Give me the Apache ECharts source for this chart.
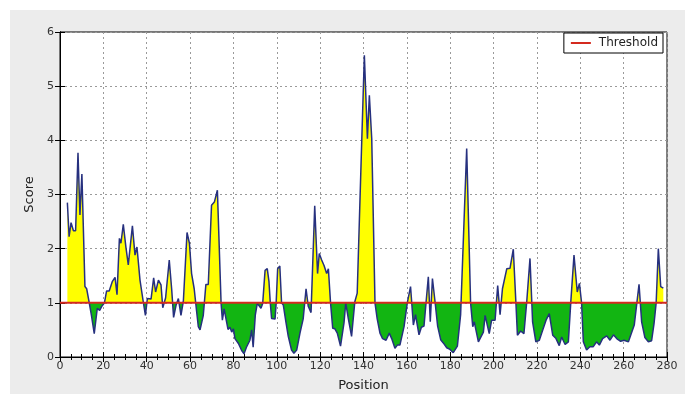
<!DOCTYPE html>
<html><head><meta charset="utf-8">
<script src="https://cdn.jsdelivr.net/npm/echarts@6/dist/echarts.min.js"></script>
<style>
html,body{margin:0;padding:0;background:#ffffff;}
#c{position:absolute;left:10px;top:10px;width:675px;height:384px;}
</style></head>
<body><div id="c"></div>
<script>
const positions = [3.4,4.2,5.1,6.2,7.2,8.3,9.2,10.1,11.5,12.3,13.5,14.5,15.8,16.4,17.2,18.3,19.2,20.5,21.5,22.7,24.1,25.4,26.3,27.4,28.1,29.2,30.4,31.5,33.4,34.6,35.5,36.9,38.4,39.4,40.3,42.0,43.2,44.1,45.4,46.6,47.4,48.7,50.4,51.5,52.4,53.5,54.6,55.8,56.9,58.6,59.7,60.7,61.9,63.0,63.8,64.6,66.1,67.3,68.4,69.9,71.2,72.6,74.3,74.9,75.7,76.6,77.5,78.4,79.2,80,80.7,82.3,83.8,84.9,86,87.6,88.4,89.1,90.1,91,91.9,92.7,93.5,94.6,95.6,96.4,97.0,97.6,99.2,99.7,100.4,101.4,102.2,103,104.2,105.3,106.8,107.9,109.2,110.7,112.2,113.5,114.5,115.8,117.5,118.8,119.6,120.7,121.8,123,123.8,124.8,125.8,126.8,127.9,129.4,131,131.8,133,134.5,135.2,136,137.1,137.6,139.2,140.4,141.8,142.7,143.8,145.3,146.3,147.6,148.8,150.4,151.9,153,154.5,155.6,156.8,158.7,160.2,161.7,163,164,165.6,166.7,167.9,169.9,170.8,171.8,173,174.2,175.6,176.8,178.4,179.9,181.4,183.3,184.8,187.6,189.4,190.4,191.1,193,195.3,196.1,197.1,198,199.1,200.7,201.9,203,204.1,206.1,207.6,209.1,210.3,211,212.5,214,215.3,216.8,218,219.5,221.1,222.6,224.2,225.7,227.3,228.8,230.3,231.4,233,234.5,235.6,237.1,238.6,239.6,240.6,241.4,242.9,244.4,246,247.5,248.8,250.3,252.2,253.7,255.3,256.8,258.6,260.2,262.2,264.9,267.1,268.3,269.8,271.4,272.9,274,275,276,277.1,278.3];
const scores = [2.85,2.22,2.48,2.33,2.33,3.77,2.62,3.38,1.30,1.26,1.0,0.77,0.43,0.43,0.9,0.86,0.93,1.0,1.22,1.22,1.39,1.47,1.15,2.19,2.1,2.45,2.03,1.7,2.42,1.88,2.03,1.42,1.02,0.77,1.08,1.07,1.46,1.2,1.42,1.33,0.91,1.09,1.79,1.26,0.73,0.95,1.08,0.77,1.03,2.30,2.1,1.54,1.26,0.85,0.56,0.5,0.77,1.34,1.34,2.8,2.86,3.08,1.0,0.68,0.89,0.86,0.51,0.55,0.46,0.52,0.34,0.25,0.12,0.06,0.18,0.31,0.5,0.18,0.78,0.99,0.99,0.9,0.99,1.6,1.63,1.39,1.0,0.71,0.70,0.99,1.63,1.68,1.0,0.96,0.65,0.38,0.13,0.07,0.13,0.44,0.71,1.26,0.94,0.82,2.79,1.54,1.91,1.79,1.69,1.54,1.63,1.0,0.53,0.52,0.44,0.2,0.63,1.0,0.71,0.38,0.38,1.02,1.18,1.2,4.0,5.57,4.03,4.83,4.03,1.0,0.71,0.44,0.34,0.31,0.44,0.34,0.16,0.22,0.22,0.56,1.0,1.30,0.59,0.78,0.41,0.55,0.57,1.48,0.65,1.45,1.02,0.57,0.32,0.26,0.17,0.14,0.08,0.2,0.78,3.85,1.0,0.56,0.65,0.28,0.46,0.77,0.59,0.43,0.68,0.68,1.32,0.78,1.26,1.63,1.64,1.99,1.0,0.40,0.48,0.43,1.02,1.82,0.65,0.28,0.31,0.49,0.68,0.80,0.40,0.34,0.21,0.37,0.23,0.28,1.0,1.88,1.2,1.36,1.0,0.28,0.13,0.19,0.19,0.28,0.22,0.34,0.39,0.31,0.41,0.34,0.29,0.31,0.28,0.59,1.34,0.65,0.36,0.28,0.30,0.61,1.0,2.0,1.30,1.27];
const thresholdValue = 1;
const xMin = 0, xMax = 280, xStep = 20;
const yMin = 0, yMax = 6, yStep = 1;

const pts = positions.map((p, i) => [p, scores[i]]);
const font = 'DejaVu Sans';
const chart = echarts.init(document.getElementById('c'));
const gridDotted = {show: true, lineStyle: {color: '#9a9a9a', width: 1, type: [2, 3]}};
chart.setOption({
  backgroundColor: '#ececec',
  animation: false,
  grid: {left: 50, right: 18, top: 22, bottom: 37, outerBoundsMode: 'none', containLabel: false,
         show: true, backgroundColor: '#ffffff', borderColor: '#000', borderWidth: 1},
  legend: {
    data: [{name: 'Threshold', icon: 'rect'}],
    right: 22, top: 23,
    itemWidth: 20, itemHeight: 2, itemGap: 10,
    padding: [4, 5, 4, 7],
    borderColor: '#000', borderWidth: 1, borderRadius: 0,
    backgroundColor: '#fff',
    textStyle: {fontFamily: font, fontSize: 12, color: '#222', padding: [0, 0, 0, 3]}
  },
  xAxis: [{
    type: 'value', min: xMin, max: xMax, interval: xStep,
    name: 'Position', nameLocation: 'middle', nameGap: 22,
    nameTextStyle: {fontFamily: font, fontSize: 13, color: '#222'},
    axisLine: {show: true, onZero: false, lineStyle: {color: '#000'}},
    axisTick: {show: true, inside: true, length: 5, lineStyle: {color: '#000'}},
    minorTick: {show: true, splitNumber: 4, length: 3, lineStyle: {color: '#000'}},
    axisLabel: {fontFamily: font, fontSize: 11, color: '#333', margin: 4},
    splitLine: gridDotted
  }, {
    type: 'value', min: xMin, max: xMax, interval: xStep, position: 'top',
    axisLine: {show: true, lineStyle: {color: '#000'}},
    axisTick: {show: true, inside: true, length: 5, lineStyle: {color: '#000'}},
    minorTick: {show: true, splitNumber: 4, length: 3, lineStyle: {color: '#000'}},
    axisLabel: {show: false}, splitLine: {show: false}
  }],
  yAxis: [{
    type: 'value', min: yMin, max: yMax, interval: yStep,
    name: 'Score', nameLocation: 'middle', nameGap: 20, nameRotate: 90,
    nameTextStyle: {fontFamily: font, fontSize: 13, color: '#222'},
    axisLine: {show: true, onZero: false, lineStyle: {color: '#000'}},
    axisTick: {show: true, inside: true, length: 5, lineStyle: {color: '#000'}},
    axisLabel: {fontFamily: font, fontSize: 11, color: '#333', margin: 6},
    splitLine: gridDotted
  }, {
    type: 'value', min: yMin, max: yMax, interval: yStep, position: 'right',
    axisLine: {show: true, lineStyle: {color: '#000'}},
    axisTick: {show: true, inside: true, length: 5, lineStyle: {color: '#000'}},
    axisLabel: {show: false}, splitLine: {show: false}
  }],
  series: [{
    name: 'fill', type: 'line', data: pts, symbol: 'none', silent: true,
    lineStyle: {width: 0, opacity: 0},
    areaStyle: {origin: thresholdValue, opacity: 1, color: '#ffff00'},
    z: 2
  }, {
    name: 'Score', type: 'line', data: pts, symbol: 'none',
    lineStyle: {color: '#26307f', width: 1.5},
    z: 3
  }, {
    name: 'Threshold', type: 'line', data: [[xMin, thresholdValue], [xMax, thresholdValue]],
    symbol: 'none', color: '#d42a1f',
    lineStyle: {color: '#d42a1f', width: 2},
    z: 4
  }]
});
// split the fill colour at the threshold level using the axis scale
const topPx = chart.convertToPixel({yAxisIndex: 0}, yMax);
const botPx = chart.convertToPixel({yAxisIndex: 0}, yMin);
const thrPx = chart.convertToPixel({yAxisIndex: 0}, thresholdValue);
const f = (thrPx - topPx) / (botPx - topPx);
chart.setOption({
  series: [{
    name: 'fill',
    areaStyle: {color: new echarts.graphic.LinearGradient(0, topPx, 0, botPx, [
      {offset: 0, color: '#ffff00'}, {offset: f, color: '#ffff00'},
      {offset: f, color: '#12b512'}, {offset: 1, color: '#12b512'}
    ], true)}
  }]
});
</script></body></html>
